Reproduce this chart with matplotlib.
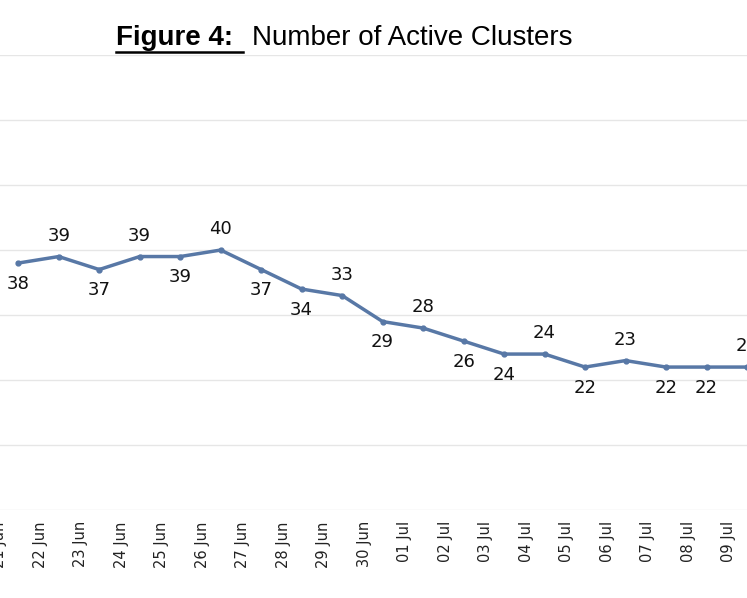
import matplotlib
matplotlib.use("Agg")
import matplotlib.pyplot as plt

dates = ["21 Jun","22 Jun","23 Jun","24 Jun","25 Jun","26 Jun","27 Jun","28 Jun","29 Jun","30 Jun",
         "01 Jul","02 Jul","03 Jul","04 Jul","05 Jul","06 Jul","07 Jul","08 Jul","09 Jul"]
values = [38,39,37,39,39,40,37,34,33,29,28,26,24,24,22,23,22,22,22]
label_pos = ["below","above","below","above","below","above","below","below","above","below",
             "above","below","below","above","below","above","below","below","above"]

fig = plt.figure(figsize=(7.47,5.98), dpi=100)
ax = fig.add_axes([0, 0.147, 1, 0.761])
x = list(range(len(values)))
ax.plot(x, values, color="#5878a6", lw=2.5, marker="o", ms=3.5, clip_on=False, zorder=3)
for xi, v, p in zip(x, values, label_pos):
    off = 15 if p == "above" else -15
    ax.annotate(str(v), (xi, v), xytext=(0, off), textcoords="offset points",
                ha="center", va="center", fontsize=13, family="DejaVu Sans", color="#111111")
ax.set_xlim(-0.37, 18)
ax.set_ylim(0, 70)
ax.set_yticks(range(0, 71, 10))
ax.yaxis.grid(True, color="#e6e6e6", lw=1)
ax.set_yticklabels([])
ax.tick_params(axis="y", length=0)
ax.set_xticks([i - 0.45 for i in x])
ax.set_xticklabels(dates, rotation=90, fontsize=10.5, family="DejaVu Sans", color="#222222")
ax.tick_params(axis="x", length=0, pad=8)
for s in ax.spines.values():
    s.set_visible(False)
fig.text(116/747, 0.936, "Figure 4:", fontsize=20, fontweight="bold", family="Liberation Sans",
         ha="left", va="center")
fig.add_artist(plt.Line2D([116/747, 243/747], [0.913, 0.913], color="black", lw=1.8))
fig.text(252/747, 0.936, "Number of Active Clusters", fontsize=20, family="Liberation Sans",
         ha="left", va="center")
fig.savefig("out.png", dpi=100)
